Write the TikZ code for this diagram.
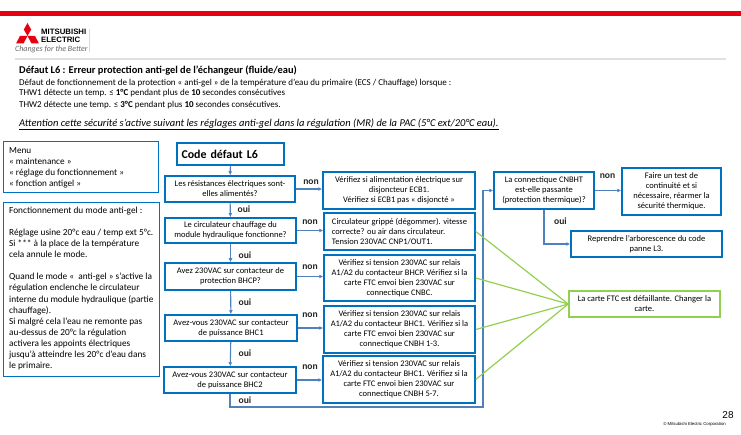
\documentclass[tikz,border=0pt]{standalone}
\usepackage{fontspec}
\setmainfont{Carlito}
\newfontfamily\arialf{Liberation Sans}
\definecolor{boxblue}{HTML}{0070C0}
\definecolor{arrowblue}{HTML}{4F81BD}
\definecolor{limegreen}{HTML}{92D050}
\definecolor{mitsured}{HTML}{E60012}
\usetikzlibrary{arrows.meta}
\tikzset{
 bx/.style={draw=boxblue,line width=1.5pt,fill=white,inner sep=0pt,align=center,font=\fontsize{8.5}{10}\selectfont,text=black},
 thinbx/.style={draw=boxblue,line width=0.9pt,inner sep=0pt},
 flow/.style={draw=arrowblue,line width=1.1pt,-{Latex[length=4pt,width=4pt]}},
 greenline/.style={draw=limegreen,line width=1.2pt},
 lbl/.style={font=\fontsize{9.6}{10}\selectfont\bfseries,inner sep=0pt,text=black!85},
 txt/.style={anchor=west,inner sep=0pt,text=black},
}
\begin{document}
\begin{tikzpicture}[x=1pt,y=-1pt]
\useasboundingbox (0,0) rectangle (741,435);
% header
\fill[mitsured] (0,11) rectangle (741,16);
\fill[black!12] (15,58.5) rectangle (726,60);
\fill[black!15] (89.3,29) rectangle (90,52);
% logo
\fill[mitsured] (27.5,23) -- (31.2,29.5) -- (27.5,36) -- (23.8,29.5) -- cycle;
\fill[mitsured] (27.5,36) -- (20,36) -- (16,43.5) -- (23.5,43.5) -- cycle;
\fill[mitsured] (27.5,36) -- (35,36) -- (39,43.5) -- (31.5,43.5) -- cycle;
\node[txt,font=\arialf\bfseries\fontsize{7.8}{7.8}\selectfont] (mitsu) at (41,32) {MITSUBISHI};
\node[txt,font=\arialf\bfseries\fontsize{7.8}{7.8}\selectfont] (elec) at (41,40) {ELECTRIC};
\node[txt,font=\itshape\fontsize{8}{8}\selectfont,text=black!60] (chg) at (15,49.5) {Changes for the Better};
% headings
\node[txt,font=\bfseries\fontsize{10.4}{11}\selectfont] (t1) at (19,70.5) {Défaut L6 : Erreur protection anti-gel de l’échangeur (fluide/eau)};
\node[txt,font=\fontsize{9}{10}\selectfont] (t2) at (19,82.5) {Défaut de fonctionnement de la protection « anti-gel » de la température d'eau du primaire (ECS / Chauffage) lorsque :};
\node[txt,font=\fontsize{9}{10}\selectfont] (t3) at (19,93.5) {THW1 détecte un temp. ≤ \textbf{1°C} pendant plus de \textbf{10} secondes consécutives};
\node[txt,font=\fontsize{9}{10}\selectfont] (t4) at (19,105.5) {THW2 détecte une temp. ≤ \textbf{3°C} pendant plus \textbf{10} secondes consécutives.};
\node[txt,font=\itshape\fontsize{10.5}{11}\selectfont] (t5) at (19,124.5) {\underline{Attention cette sécurité s’active suivant les réglages anti-gel dans la régulation (MR) de la PAC (5°C ext/20°C eau).}};
% left boxes
\node[thinbx,minimum width=155pt,minimum height=50.5pt] (menu) at (80.5,166.8) {};
\node[txt,font=\fontsize{9.2}{11}\selectfont,align=left] (menutxt) at (9,167.5) {Menu\\« maintenance »\\« réglage du fonctionnement »\\« fonction antigel »};
\node[thinbx,minimum width=156pt,minimum height=174pt] (func) at (81.5,289) {};
\node[txt,font=\fontsize{9.3}{11.07}\selectfont,align=left] (functxt) at (9,288.5) {Fonctionnement du mode anti-gel :\\[11.07pt]Réglage usine 20°c eau / temp ext 5°c.\\Si *** à la place de la température\\cela annule le mode.\\[11.07pt]Quand le mode «~ anti-gel » s’active la\\régulation enclenche le circulateur\\interne du module hydraulique (partie\\chauffage).\\Si malgré cela l’eau ne remonte pas\\au-dessus de 20°c la régulation\\activera les appoints électriques\\jusqu’à atteindre les 20°c d’eau dans\\le primaire.};
% flow boxes
\node[bx,minimum width=107pt,minimum height=22pt,font=\bfseries\fontsize{11.9}{12}\selectfont,text width=102pt,align=left] (code) at (230.5,154) {\hspace*{2pt}Code défaut L6};
\node[bx,minimum width=130pt,minimum height=26pt] (q1) at (230,189) {Les résistances électriques sont-\\elles alimentés?};
\node[bx,minimum width=131pt,minimum height=25pt] (q2) at (230.5,230.5) {Le circulateur chauffage du\\module hydraulique fonctionne?};
\node[bx,minimum width=131pt,minimum height=27pt] (q3) at (230.5,276.5) {Avez 230VAC sur contacteur de\\protection BHCP?};
\node[bx,minimum width=132pt,minimum height=26pt] (q4) at (231,328) {Avez-vous 230VAC sur contacteur\\de puissance BHC1};
\node[bx,minimum width=132pt,minimum height=26pt] (q5) at (230,380) {Avez-vous 230VAC sur contacteur\\de puissance BHC2};
\node[bx,minimum width=152pt,minimum height=37pt] (r1) at (399,190.5) {Vérifiez si alimentation électrique sur\\disjoncteur ECB1.\\Vérifiez si ECB1 pas « disjoncté »};
\node[bx,minimum width=151pt,minimum height=37pt,align=left] (r2) at (399.5,231.5) {Circulateur grippé (dégommer). vitesse\\correcte? ou air dans circulateur.\\Tension 230VAC CNP1/OUT1.};
\node[bx,minimum width=151pt,minimum height=46pt] (r3) at (399.5,278) {Vérifiez si tension 230VAC sur relais\\A1/A2 du contacteur BHCP. Vérifiez si la\\carte FTC envoi bien 230VAC sur\\connectique CNBC.};
\node[bx,minimum width=151pt,minimum height=47pt] (r4) at (399.5,329.5) {Vérifiez si tension 230VAC sur relais\\A1/A2 du contacteur BHC1. Vérifiez si la\\carte FTC envoi bien 230VAC sur\\connectique CNBH 1-3.};
\node[bx,minimum width=152pt,minimum height=47pt] (r5) at (399,379.5) {Vérifiez si tension 230VAC sur relais\\A1/A2 du contacteur BHC1. Vérifiez si la\\carte FTC envoi bien 230VAC sur\\connectique CNBH 5-7.};
\node[bx,minimum width=100pt,minimum height=37pt] (cn) at (544,190.5) {La connectique CNBHT\\est-elle passante\\(protection thermique)?};
\node[bx,minimum width=99pt,minimum height=47pt] (faire) at (671.5,191.5) {Faire un test de\\continuité et si\\nécessaire, réarmer la\\sécurité thermique.};
\node[bx,minimum width=151pt,minimum height=26pt] (rep) at (646.5,244) {Reprendre l’arborescence du code\\panne L3.};
\node[bx,draw=limegreen,minimum width=151pt,minimum height=26pt] (ftc) at (644.5,304) {La carte FTC est défaillante. Changer la\\carte.};
% connectors
\coordinate (c1) at (230,407);
\coordinate (c2) at (483,407);
\coordinate (c3) at (483,190.5);
\draw[flow] (code) -- (q1);
\draw[flow] (q1) -- (q2);
\draw[flow] (q2) -- (q3);
\draw[flow] (q3) -- (q4);
\draw[flow] (q4) -- (q5);
\draw[flow] (q1.east) -- (r1.west |- q1.east);
\draw[flow] (q2.east) -- (r2.west |- q2.east);
\draw[flow] (q3.east) -- (r3.west |- q3.east);
\draw[flow] (q4.east) -- (r4.west |- q4.east);
\draw[flow] (q5.east) -- (r5.west |- q5.east);
\draw[flow] (q5.south) -- (c1) -- (c2) -- (c3) -- (cn.west);
\draw[flow] (cn.east) -- (faire.west |- cn.east);
\draw[flow] (cn.south) |- (rep.west);
\foreach \n in {r2,r3,r4,r5} \draw[greenline] (\n.east) -- (ftc.west);
% labels
\node[lbl] (n1) at (311,182) {non};
\node[lbl] (n2) at (310,222) {non};
\node[lbl] (n3) at (310,267.5) {non};
\node[lbl] (n4) at (310,315) {non};
\node[lbl] (n5) at (310,367) {non};
\node[lbl] (n6) at (607.5,176) {non};
\node[lbl] (o1) at (244,209) {oui};
\node[lbl] (o2) at (245,255) {oui};
\node[lbl] (o3) at (245,302) {oui};
\node[lbl] (o4) at (245,353) {oui};
\node[lbl] (o5) at (245,400) {oui};
\node[lbl] (o6) at (560.5,221) {oui};
% footer
\node[inner sep=0pt,font=\arialf\fontsize{10}{10}\selectfont] (pg) at (728,415) {28};
\node[inner sep=0pt,font=\arialf\fontsize{4.3}{5}\selectfont,anchor=east] (copy) at (726,424) {© Mitsubishi Electric Corporation};
\end{tikzpicture}
\end{document}
